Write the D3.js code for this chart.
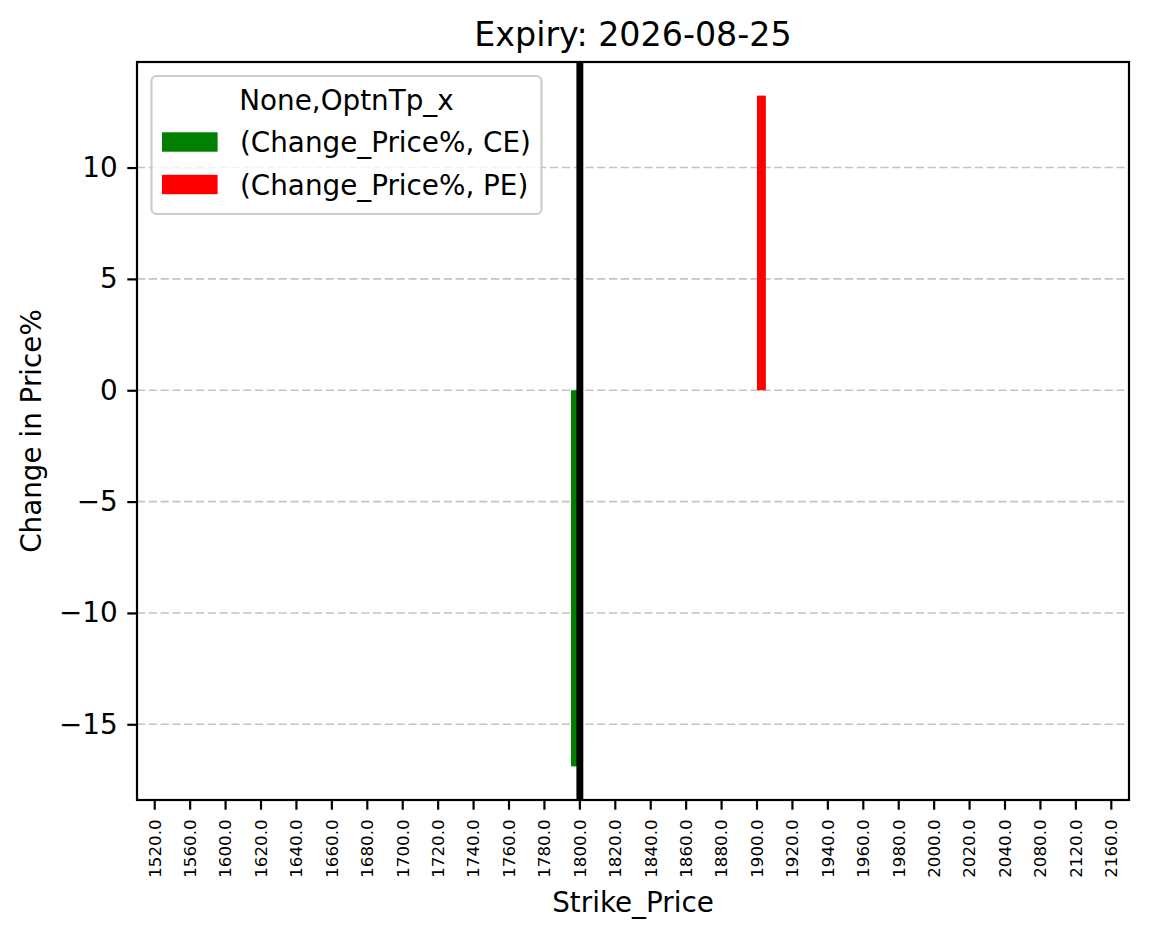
<!DOCTYPE html>
<html>
<head>
<meta charset="utf-8">
<script src="https://d3js.org/d3.v7.min.js"></script>
<style>
  body { margin: 0; background: #fff; }
  text { font-family: "DejaVu Sans", sans-serif; fill: #000; }
</style>
</head>
<body>
<script>
// data
var strikes = [1520, 1560, 1600, 1620, 1640, 1660, 1680, 1700, 1720, 1740, 1760, 1780, 1800, 1820,
               1840, 1860, 1880, 1900, 1920, 1940, 1960, 1980, 2000, 2020, 2040, 2080, 2120, 2160];
var ceChange = [null, null, null, null, null, null, null, null, null, null, null, null, -16.89, null,
                null, null, null, null, null, null, null, null, null, null, null, null, null, null];
var peChange = [null, null, null, null, null, null, null, null, null, null, null, null, null, null,
                null, null, null, 13.23, null, null, null, null, null, null, null, null, null, null];
var seriesNames = ["CE", "PE"];
var seriesColors = ["green", "red"];
var yTicks = [-15, -10, -5, 0, 5, 10];
var spotStrike = 1800;

var w = 1149, h = 939;
var pLeft = 137, pRight = 1129, pTop = 62, pBottom = 800;

var svg = d3.select("body").append("svg")
  .attr("width", w)
  .attr("height", h);

var x = d3.scaleBand()
  .domain(strikes)
  .range([pLeft, pRight])
  .padding(0);

var sub = d3.scaleBand()
  .domain(seriesNames)
  .range([x.bandwidth() * 0.25, x.bandwidth() * 0.75])
  .padding(0);

var y = d3.scaleLinear()
  .domain([-18.4, 14.74])
  .range([pBottom, pTop]);

// grid
svg.append("g")
  .selectAll("line")
  .data(yTicks)
  .enter()
  .append("line")
  .attr("x1", pLeft).attr("x2", pRight)
  .attr("y1", function(d) { return y(d); })
  .attr("y2", function(d) { return y(d); })
  .attr("stroke", "#c4c4c4")
  .attr("stroke-width", 1.6)
  .attr("stroke-dasharray", "8.2,3.6");

// bars
var series = [ceChange, peChange];
series.forEach(function(vals, si) {
  var rows = strikes.map(function(s, i) { return {strike: s, v: vals[i]}; })
    .filter(function(d) { return d.v !== null; });
  svg.append("g")
    .selectAll("rect")
    .data(rows)
    .enter()
    .append("rect")
    .attr("x", function(d) { return x(d.strike) + sub(seriesNames[si]); })
    .attr("width", sub.bandwidth())
    .attr("y", function(d) { return y(Math.max(0, d.v)); })
    .attr("height", function(d) { return Math.abs(y(d.v) - y(0)); })
    .attr("fill", seriesColors[si]);
});

// spot line
svg.append("line")
  .attr("x1", x(spotStrike) + x.bandwidth() / 2)
  .attr("x2", x(spotStrike) + x.bandwidth() / 2)
  .attr("y1", pTop).attr("y2", pBottom)
  .attr("stroke", "#000")
  .attr("stroke-width", 6.9);

// axes
var xAxis = svg.append("g")
  .attr("transform", "translate(0," + pBottom + ")")
  .call(d3.axisBottom(x).tickSizeOuter(0).tickSizeInner(9.7).tickPadding(9.7)
    .tickFormat(function(d) { return d.toFixed(1); }));
xAxis.select(".domain").remove();
xAxis.selectAll(".tick line").attr("stroke-width", 2.2);
xAxis.selectAll(".tick text")
  .attr("transform", "rotate(-90)")
  .attr("text-anchor", "end")
  .attr("x", -19.4)
  .attr("y", 0)
  .attr("dy", "0.35em")
  .style("font-size", "16.7px");

var yAxis = svg.append("g")
  .attr("transform", "translate(" + pLeft + ",0)")
  .call(d3.axisLeft(y).tickValues(yTicks).tickSizeOuter(0).tickSizeInner(9.7).tickPadding(9.7)
    .tickFormat(function(d) { return d < 0 ? "\u2212" + Math.abs(d) : d; }));
yAxis.select(".domain").remove();
yAxis.selectAll(".tick line").attr("stroke-width", 2.2);
yAxis.selectAll(".tick text").style("font-size", "27.8px");
svg.selectAll(".tick text").style("font-family", "DejaVu Sans");

// frame
svg.append("rect")
  .attr("x", pLeft).attr("y", pTop)
  .attr("width", pRight - pLeft).attr("height", pBottom - pTop)
  .attr("fill", "none")
  .attr("stroke", "#000")
  .attr("stroke-width", 2.2);

// labels
svg.append("text")
  .attr("x", (pLeft + pRight) / 2).attr("y", 46)
  .attr("text-anchor", "middle")
  .style("font-size", "33.3px")
  .text("Expiry: 2026-08-25");

svg.append("text")
  .attr("x", (pLeft + pRight) / 2).attr("y", 912)
  .attr("text-anchor", "middle")
  .style("font-size", "27.8px")
  .text("Strike_Price");

svg.append("text")
  .attr("transform", "translate(41," + (pTop + pBottom) / 2 + ") rotate(-90)")
  .attr("text-anchor", "middle")
  .style("font-size", "27.8px")
  .text("Change in Price%");

// legend
var lg = svg.append("g");
lg.append("rect")
  .attr("x", 151.5).attr("y", 76)
  .attr("width", 390).attr("height", 138)
  .attr("rx", 5)
  .attr("fill", "#fff").attr("fill-opacity", 0.8)
  .attr("stroke", "#cccccc").attr("stroke-width", 2.2);
lg.append("text")
  .attr("x", 346.5).attr("y", 110)
  .attr("text-anchor", "middle")
  .style("font-size", "27.8px")
  .text("None,OptnTp_x");
seriesNames.forEach(function(s, i) {
  var cy = 142 + i * 42.5;
  lg.append("rect")
    .attr("x", 162).attr("y", cy - 9.7)
    .attr("width", 55.6).attr("height", 19.4)
    .attr("fill", seriesColors[i]);
  lg.append("text")
    .attr("x", 240).attr("y", cy + 10)
    .style("font-size", "27.8px")
    .text("(Change_Price%, " + s + ")");
});
</script>
</body>
</html>
